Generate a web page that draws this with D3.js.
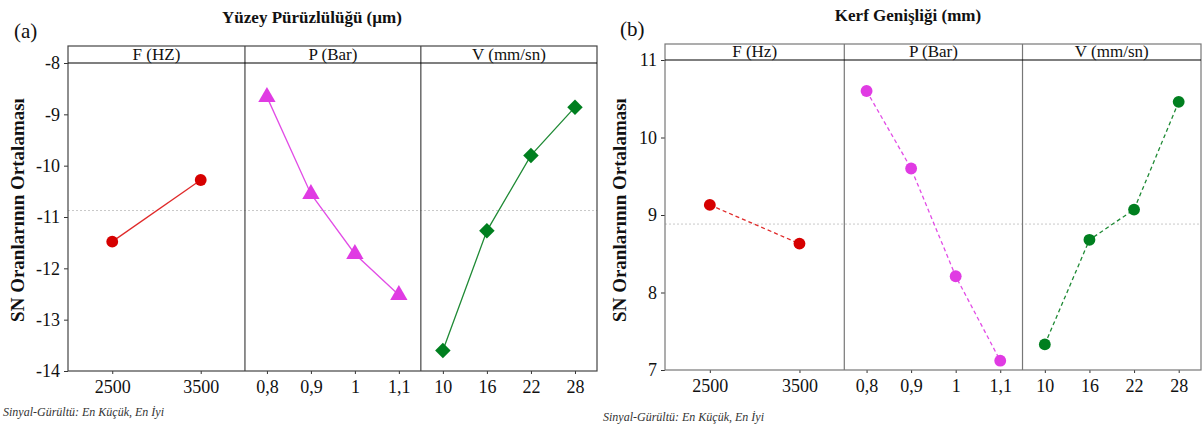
<!DOCTYPE html>
<html>
<head>
<meta charset="utf-8">
<script src="https://cdnjs.cloudflare.com/ajax/libs/d3/7.8.5/d3.min.js"></script>
<style>
  body { margin: 0; background: #fff; }
  svg text { font-family: "Liberation Serif", "Times New Roman", "DejaVu Serif", serif !important; }
</style>
</head>
<body>
<div id="chart"></div>
<script>
// factor names and levels
var factorsA = ["F (HZ)", "P (Bar)", "V (mm/sn)"];
var factorsB = ["F (Hz)", "P (Bar)", "V (mm/sn)"];
var levelsF = ["2500", "3500"];
var levelsP = ["0,8", "0,9", "1", "1,1"];
var levelsV = ["10", "16", "22", "28"];

// (a) Yüzey Pürüzlülüğü - SN means
var roughF = [-11.48, -10.28];
var roughP = [-8.66, -10.55, -11.72, -12.52];
var roughV = [-13.6, -11.27, -9.8, -8.86];
var roughTicks = [-14, -13, -12, -11, -10, -9, -8];

// (b) Kerf Genişliği - SN means
var kerfF = [9.13, 8.63];
var kerfP = [10.6, 9.6, 8.21, 7.12];
var kerfV = [7.33, 8.68, 9.07, 10.46];
var kerfTicks = [7, 8, 9, 10, 11];

var colors = ["#d60000", "#e03be3", "#007f1f"];
var lineColors = ["#e02a2a", "#e24ce6", "#1f8a35"];

var svg = d3.select("#chart").append("svg")
    .attr("width", 1203).attr("height", 428);

function mean(arrs) {
    var all = [].concat.apply([], arrs);
    return d3.mean(all);
}

function drawPanel(opt) {
    var g = svg.append("g");
    var levels = [levelsF, levelsP, levelsV];
    var y = d3.scaleLinear().domain(opt.domain).range([opt.bottom, opt.headBottom]);

    // panel edges: first panel slightly wider
    var totalW = opt.right - opt.left;
    var edges = [opt.left, opt.left + totalW * 0.3345, opt.left + totalW * 0.667, opt.right];

    // reference line (overall mean)
    var m = mean(opt.series);
    g.append("line")
        .attr("x1", opt.left).attr("x2", opt.right)
        .attr("y1", y(m)).attr("y2", y(m))
        .attr("stroke", "#c8c8c8").attr("stroke-width", 1)
        .attr("stroke-dasharray", "2,2");

    // y axis
    var yAxis = d3.axisLeft(y).tickValues(opt.ticks).tickSize(4).tickFormat(d3.format("d"));
    var ya = g.append("g").attr("transform", "translate(" + opt.left + ",0)").call(yAxis);
    ya.select(".domain").remove();
    ya.selectAll("line").attr("stroke", "#333");
    ya.selectAll("text").attr("font-size", 18).attr("fill", "#111").attr("dx", -1)
        .text(function(d) { return d < 0 ? "-" + Math.abs(d) : d; });

    for (var i = 0; i < 3; i++) {
        var x = d3.scalePoint().domain(levels[i]).range([edges[i], edges[i + 1]]).padding(0.5);
        var data = opt.series[i].map(function(v, k) { return { lvl: levels[i][k], val: v }; });

        var xAxis = d3.axisBottom(x).tickSize(3).tickPadding(6);
        var xa = g.append("g").attr("transform", "translate(0," + opt.bottom + ")").call(xAxis);
        xa.select(".domain").remove();
        xa.selectAll("line").attr("stroke", "#333");
        xa.selectAll("text").attr("font-size", 18).attr("fill", "#111");

        var line = d3.line().x(function(d) { return x(d.lvl); }).y(function(d) { return y(d.val); });
        g.append("path").datum(data)
            .attr("d", line).attr("fill", "none")
            .attr("stroke", lineColors[i]).attr("stroke-width", 1.3)
            .attr("stroke-dasharray", opt.dashed ? "4,3" : null);

        var sym = opt.symbols[i];
        g.selectAll(".pt" + i + opt.id).data(data).enter().append("path")
            .attr("transform", function(d) {
                return "translate(" + x(d.lvl) + "," + y(d.val) + ")" + (sym.rot ? " rotate(45)" : "");
            })
            .attr("d", d3.symbol().type(sym.type).size(sym.size))
            .attr("fill", colors[i]);

        // header label
        g.append("text")
            .attr("x", (edges[i] + edges[i + 1]) / 2)
            .attr("y", opt.headBottom - 3)
            .attr("text-anchor", "middle")
            .attr("font-size", 17).attr("fill", "#111")
            .text(opt.factors[i]);
    }

    // frame and dividers
    g.append("rect")
        .attr("x", opt.left).attr("y", opt.top)
        .attr("width", opt.right - opt.left).attr("height", opt.bottom - opt.top)
        .attr("fill", "none").attr("stroke", opt.frameColor).attr("stroke-width", 1.2);
    [edges[1], edges[2]].forEach(function(ex) {
        g.append("line").attr("x1", ex).attr("x2", ex)
            .attr("y1", opt.top).attr("y2", opt.bottom)
            .attr("stroke", opt.frameColor).attr("stroke-width", 1.2);
    });
    g.append("line")
        .attr("x1", opt.left).attr("x2", opt.right)
        .attr("y1", opt.headBottom).attr("y2", opt.headBottom)
        .attr("stroke", "#000").attr("stroke-width", 1.2);

    // title
    g.append("text")
        .attr("x", opt.titleX).attr("y", opt.titleY)
        .attr("text-anchor", "middle").attr("font-weight", "bold")
        .attr("font-size", 17).attr("fill", "#111")
        .text(opt.title);
    g.append("text")
        .attr("x", opt.tagX).attr("y", opt.tagY)
        .attr("font-size", 21).attr("fill", "#111")
        .text(opt.tag);

    // y label
    g.append("text")
        .attr("transform", "translate(" + opt.ylabX + "," + opt.ylabY + ") rotate(-90)")
        .attr("text-anchor", "middle").attr("font-weight", "bold")
        .attr("font-size", 19).attr("fill", "#111")
        .text("SN Oranlarının Ortalaması");

    // footnote
    g.append("text")
        .attr("x", opt.noteX).attr("y", opt.noteY)
        .attr("font-style", "italic").attr("font-size", 12).attr("fill", "#333")
        .text("Sinyal-Gürültü: En Küçük, En İyi");
}

drawPanel({
    id: "a", factors: factorsA, series: [roughF, roughP, roughV],
    domain: [-14, -8], ticks: roughTicks,
    left: 68, right: 597, top: 46, headBottom: 63, bottom: 371,
    frameColor: "#444", dashed: false,
    symbols: [{ type: d3.symbolCircle, size: 110 }, { type: d3.symbolTriangle, size: 130 }, { type: d3.symbolSquare, size: 120, rot: true }],
    title: "Yüzey Pürüzlülüğü (µm)", titleX: 312, titleY: 23,
    tag: "(a)", tagX: 14, tagY: 38,
    ylabX: 24, ylabY: 210,
    noteX: 3, noteY: 416
});

drawPanel({
    id: "b", factors: factorsB, series: [kerfF, kerfP, kerfV],
    domain: [7, 11], ticks: kerfTicks,
    left: 665, right: 1201, top: 44, headBottom: 60, bottom: 370,
    frameColor: "#777", dashed: true,
    symbols: [{ type: d3.symbolCircle, size: 110 }, { type: d3.symbolCircle, size: 110 }, { type: d3.symbolCircle, size: 110 }],
    title: "Kerf Genişliği (mm)", titleX: 908, titleY: 21,
    tag: "(b)", tagX: 620, tagY: 36,
    ylabX: 626, ylabY: 210,
    noteX: 603, noteY: 421
});
</script>
</body>
</html>
